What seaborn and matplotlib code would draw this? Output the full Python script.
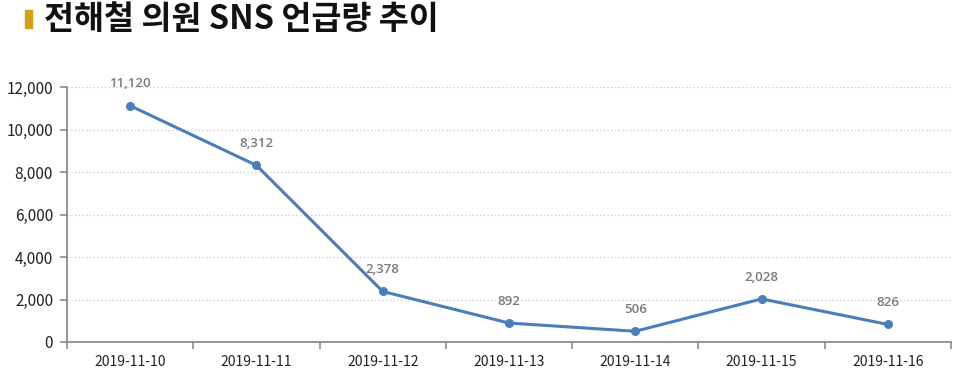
import matplotlib
matplotlib.use("Agg")
import matplotlib.pyplot as plt
import seaborn as sns
import pandas as pd
from matplotlib.ticker import FixedLocator, FuncFormatter
from matplotlib.patches import Rectangle

dates = ["2019-11-10", "2019-11-11", "2019-11-12", "2019-11-13",
         "2019-11-14", "2019-11-15", "2019-11-16"]
mentions = [11120, 8312, 2378, 892, 506, 2028, 826]
title = "전해철 의원 SNS 언급량 추이"

sns.set_theme(style="white")
plt.rcParams['font.family'] = ['Noto Sans CJK KR', 'DejaVu Sans']

df = pd.DataFrame({"date": dates, "mentions": mentions})

fig = plt.figure(figsize=(9.6, 3.78), dpi=100)
ax = fig.add_axes([67/960, 1-342/378, (951-67)/960, (342-87)/378])

line_color = "#4A7EBB"
sns.lineplot(data=df, x="date", y="mentions", ax=ax, color=line_color,
             linewidth=2.2, marker="o", markersize=6.5, markeredgewidth=0,
             sort=False)

ax.set_xlim(-0.5, len(dates) - 0.5)
ax.set_ylim(0, 12000)
ax.set_yticks(range(0, 12001, 2000))
ax.yaxis.set_major_formatter(FuncFormatter(lambda v, p: f"{int(v):,}"))
ax.yaxis.grid(True, linestyle=(0, (1, 2)), color="#C8C8C8", linewidth=0.9)
ax.set_axisbelow(True)

ax.xaxis.set_major_locator(FixedLocator([i - 0.5 for i in range(len(dates) + 1)]))
ax.xaxis.set_major_formatter(FuncFormatter(lambda v, p: ""))
ax.xaxis.set_minor_locator(FixedLocator(list(range(len(dates)))))
ax.set_xticks(range(len(dates)), labels=dates, minor=True)
ax.tick_params(axis="x", which="major", direction="out", length=5, width=1.2,
               color="#8C8C8C", bottom=True)
ax.tick_params(axis="x", which="minor", length=0, pad=9, labelsize=10,
               labelcolor="#222222")
ax.tick_params(axis="y", which="major", direction="out", length=5, width=1.2,
               color="#8C8C8C", left=True, labelsize=11, labelcolor="#222222",
               pad=5)

for s in ["top", "right"]:
    ax.spines[s].set_visible(False)
for s in ["left", "bottom"]:
    ax.spines[s].set_color("#8C8C8C")
    ax.spines[s].set_linewidth(1.3)

ax.set_xlabel("")
ax.set_ylabel("")

for i, v in enumerate(mentions):
    ax.annotate(f"{v:,}", (i, v), xytext=(0, 11), textcoords="offset points",
                ha="center", va="bottom", fontsize=9.5, fontweight="semibold",
                family=["Open Sans", "DejaVu Sans"], color="#7A7A7A")

fig.patches.append(Rectangle((25/960, 1-28/378), 7/960, 18/378,
                             transform=fig.transFigure, color="#D4A017"))
fig.text(44/960, 1-19/378, title, fontsize=23.5, fontweight="bold",
         color="#111111", va="center", ha="left")

fig.savefig("out.png", dpi=100, facecolor="white")
